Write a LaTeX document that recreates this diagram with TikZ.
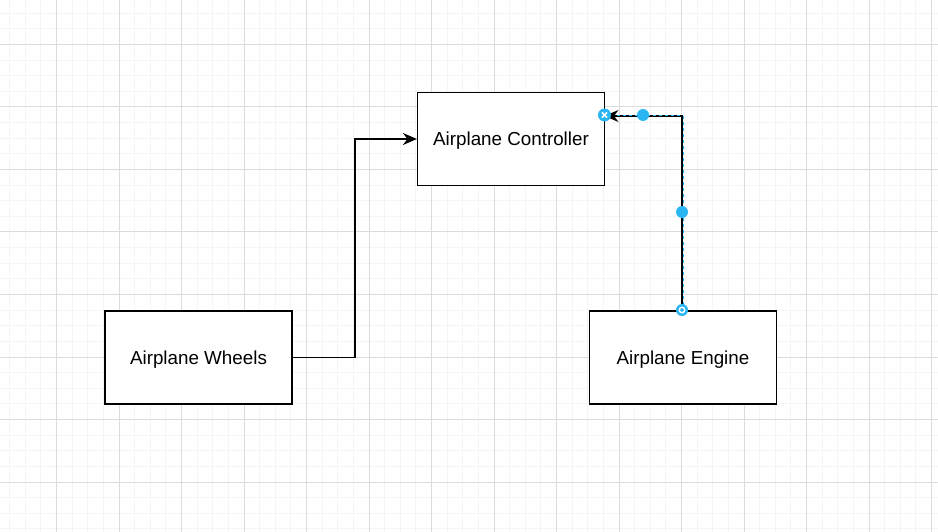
\documentclass[tikz,border=0pt]{standalone}
\usepackage{fontspec}
\setmainfont{Liberation Sans}
\usetikzlibrary{arrows.meta,calc}
\definecolor{gmajor}{HTML}{DCDCDC}
\definecolor{gminor}{HTML}{F5F5F5}
\definecolor{handle}{HTML}{29B6F2}
\tikzset{
  block/.style={draw=black, line width=1.2pt, fill=white, minimum width=187pt, minimum height=93pt, inner sep=0pt, text depth=0pt, font=\fontsize{18.8pt}{21pt}\selectfont},
  conn/.style={draw=black, line width=1.2pt, -{Stealth[length=14pt,width=12pt,inset=4.5pt]}},
  hdot/.style={circle, fill=handle, inner sep=0pt, minimum size=12pt},
}
\begin{document}
\begin{tikzpicture}[x=1pt,y=-1pt]
\useasboundingbox (0,0) rectangle (938,532);
\fill[white] (0,0) rectangle (938,532);
% minor grid
\foreach \i in {0,...,60} {
  \draw[gminor, line width=1pt] ({9.625+\i*15.625},0) -- ({9.625+\i*15.625},532);
}
\foreach \i in {0,...,34} {
  \draw[gminor, line width=1pt] (0,{13.25+\i*15.625}) -- (938,{13.25+\i*15.625});
}
% major grid
\foreach \i in {0,...,15} {
  \draw[gmajor, line width=1pt] ({56.5+\i*62.5-62.5},0) -- ({56.5+\i*62.5-62.5},532);
}
\foreach \i in {0,...,8} {
  \draw[gmajor, line width=1pt] (0,{44.5+\i*62.5-62.5}) -- (938,{44.5+\i*62.5-62.5});
}
% nodes
\node[block] (ctrl) at (511,139) {Airplane Controller};
\node[block] (wheels) at (198.5,357.5) {Airplane Wheels};
\node[block] (engine) at (683,357.5) {Airplane Engine};
% connector waypoints
\coordinate (w1) at (355,357.5);
\coordinate (w2) at (355,139);
\coordinate (es) at (682,311);
\coordinate (e1) at (682,116);
\coordinate (ee) at (604.5,116);
\coordinate (ds) at (683,311);
\coordinate (d1) at (683,116);
\coordinate (de) at (615,116);
% connectors
\draw[conn] (wheels.east) -- (w1) -- (w2) -- (ctrl.west);
\draw[conn] (es) -- (e1) -- (ee);
\draw[handle, line width=1pt, dash pattern=on 3pt off 3pt] (ds) -- (d1) -- (de);
% handles
\node[hdot] (h1) at (643,115) {};
\node[hdot] (h2) at (682,212) {};
\node[circle, fill=handle, inner sep=0pt, minimum size=13pt] (hs) at (604.5,115) {};
\draw[white, line width=1.5pt] ($(hs)+(-2.6,-2.6)$) -- ($(hs)+(2.6,2.6)$);
\draw[white, line width=1.5pt] ($(hs)+(-2.6,2.6)$) -- ($(hs)+(2.6,-2.6)$);
\node[circle, fill=handle, inner sep=0pt, minimum size=12pt] (he) at (682,310) {};
\node[circle, draw=white, line width=1.4pt, inner sep=0pt, minimum size=5.5pt] (hei) at (he) {};
\end{tikzpicture}
\end{document}
